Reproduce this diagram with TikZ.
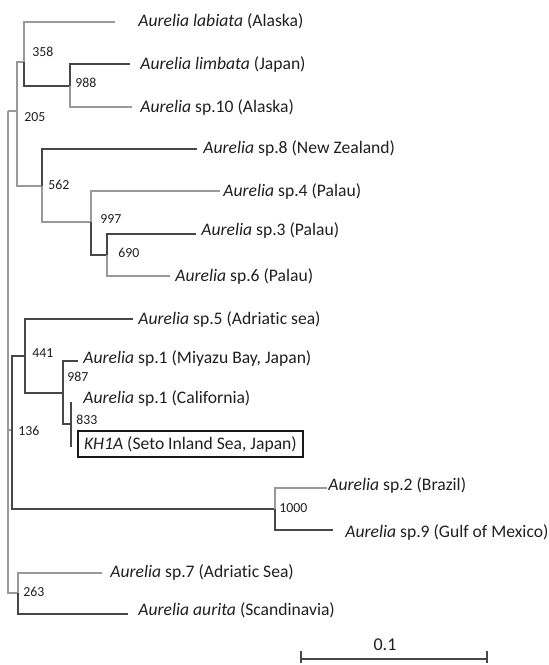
\documentclass[tikz,border=0pt]{standalone}
\usepackage{fontspec}
\setmainfont{Carlito}[Ligatures={NoCommon,NoContextual}]
\usepackage{tikz}
\tikzset{>=latex}
\tikzset{
  br/.style={draw=black!72, line width=0.6pt},
  lbr/.style={draw=black!40, line width=0.6pt},
  taxon/.style={anchor=west, inner sep=0pt, text=black!88, font=\fontsize{8.8}{10}\selectfont},
  boot/.style={anchor=west, inner sep=0pt, text=black!88, font=\fontsize{6.9}{8}\selectfont},
}

\begin{document}
\begin{tikzpicture}[x=0.5pt,y=-0.5pt]
  \useasboundingbox (0,0) rectangle (548,665);
  % internal nodes
  \coordinate (root) at (8,111);
  \coordinate (n205) at (17,111);
  \coordinate (n358) at (24,62);
  \coordinate (n988) at (70,86);
  \coordinate (n562) at (42,186);
  \coordinate (n997) at (91,222);
  \coordinate (n690) at (107,255);
  \coordinate (n136) at (12,430);
  \coordinate (n441) at (25,356);
  \coordinate (n987) at (63,393);
  \coordinate (n833) at (71,424);
  \coordinate (n1000) at (275,509);
  \coordinate (n263) at (18,593);
  % tips
  \coordinate (t-lab) at (115,22);
  \coordinate (t-lim) at (130,64);
  \coordinate (t-sp10) at (132,107);
  \coordinate (t-sp8) at (197,149);
  \coordinate (t-sp4) at (220,191);
  \coordinate (t-sp3) at (196,234);
  \coordinate (t-sp6) at (170,276);
  \coordinate (t-sp5) at (133,319);
  \coordinate (t-sp1m) at (78,361);
  \coordinate (t-sp1c) at (72,403);
  \coordinate (t-kh1a) at (72,446);
  \coordinate (t-sp2) at (327,488);
  \coordinate (t-sp9) at (333,530);
  \coordinate (t-sp7) at (102,573);
  \coordinate (t-aur) at (128,614);

  % branches
  \draw[lbr] (root) |- (n205);
  \draw[lbr] (root) |- (n136);
  \draw[lbr] (root) |- (n263);
  \draw[lbr] (n205) |- (n358);
  \draw[lbr] (n205) |- (n562);
  \draw[lbr] (n358) |- (t-lab);
  \draw[br] (n358) |- (n988);
  \draw[br] (n988) |- (t-lim);
  \draw[lbr] (n988) |- (t-sp10);
  \draw[br] (n562) |- (t-sp8);
  \draw[lbr] (n562) |- (n997);
  \draw[lbr] (n997) |- (t-sp4);
  \draw[br] (n997) |- (n690);
  \draw[br] (n690) |- (t-sp3);
  \draw[lbr] (n690) |- (t-sp6);
  \draw[br] (n136) |- (n441);
  \draw[br] (n136) |- (n1000);
  \draw[br] (n441) |- (t-sp5);
  \draw[br] (n441) |- (n987);
  \draw[br] (n987) |- (t-sp1m);
  \draw[br] (n987) |- (n833);
  \draw[br] (n833) |- (t-sp1c);
  \draw[br] (n833) |- (t-kh1a);
  \draw[lbr] (n1000) |- (t-sp2);
  \draw[br] (n1000) |- (t-sp9);
  \draw[lbr] (n263) |- (t-sp7);
  \draw[br] (n263) |- (t-aur);

  % bootstrap values
  \node[boot] (b358) at (32,52) {358};
  \node[boot] (b988) at (75,83) {988};
  \node[boot] (b205) at (24,117) {205};
  \node[boot] (b562) at (48,185) {562};
  \node[boot] (b997) at (100,219) {997};
  \node[boot] (b690) at (118,253) {690};
  \node[boot] (b441) at (32,353) {441};
  \node[boot] (b987) at (67,377) {987};
  \node[boot] (b833) at (76,420) {833};
  \node[boot] (b136) at (18,431) {136};
  \node[boot] (b1000) at (279,508) {1000};
  \node[boot] (b263) at (23,592) {263};

  % taxa
  \node[taxon] (lab) at (138,21) {\textit{Aurelia labiata} (Alaska)};
  \node[taxon] (lim) at (140,64) {\textit{Aurelia limbata} (Japan)};
  \node[taxon] (sp10) at (140,107) {\textit{Aurelia} sp.10 (Alaska)};
  \node[taxon] (sp8) at (203,148) {\textit{Aurelia} sp.8 (New Zealand)};
  \node[taxon] (sp4) at (223,191) {\textit{Aurelia} sp.4 (Palau)};
  \node[taxon] (sp3) at (201,230) {\textit{Aurelia} sp.3 (Palau)};
  \node[taxon] (sp6) at (175,276) {\textit{Aurelia} sp.6 (Palau)};
  \node[taxon] (sp5) at (138,319) {\textit{Aurelia} sp.5 (Adriatic sea)};
  \node[taxon] (sp1m) at (83,358) {\textit{Aurelia} sp.1 (Miyazu Bay, Japan)};
  \node[taxon] (sp1c) at (83,398) {\textit{Aurelia} sp.1 (California)};
  \node[taxon, draw=black!90, line width=1pt, inner xsep=3pt, minimum height=13pt] (kh1a) at (77,444) {\textit{KH1A} (Seto Inland Sea, Japan)};
  \node[taxon] (sp2) at (328,485) {\textit{Aurelia} sp.2 (Brazil)};
  \node[taxon] (sp9) at (345,532) {\textit{Aurelia} sp.9 (Gulf of Mexico)};
  \node[taxon] (sp7) at (110,572) {\textit{Aurelia} sp.7 (Adriatic Sea)};
  \node[taxon] (aur) at (138,610) {\textit{Aurelia aurita} (Scandinavia)};

  % scale bar
  \coordinate (sb1) at (301,659);
  \coordinate (sb2) at (487,659);
  \draw[br] (sb1) -- (sb2);
  \draw[br] ([yshift=4pt]sb1) -- ([yshift=-2pt]sb1);
  \draw[br] ([yshift=4pt]sb2) -- ([yshift=-2pt]sb2);
  \node[font=\fontsize{9}{10}\selectfont, text=black!88, inner sep=0pt] (sbl) at (385,645) {0.1};
\end{tikzpicture}
\end{document}
